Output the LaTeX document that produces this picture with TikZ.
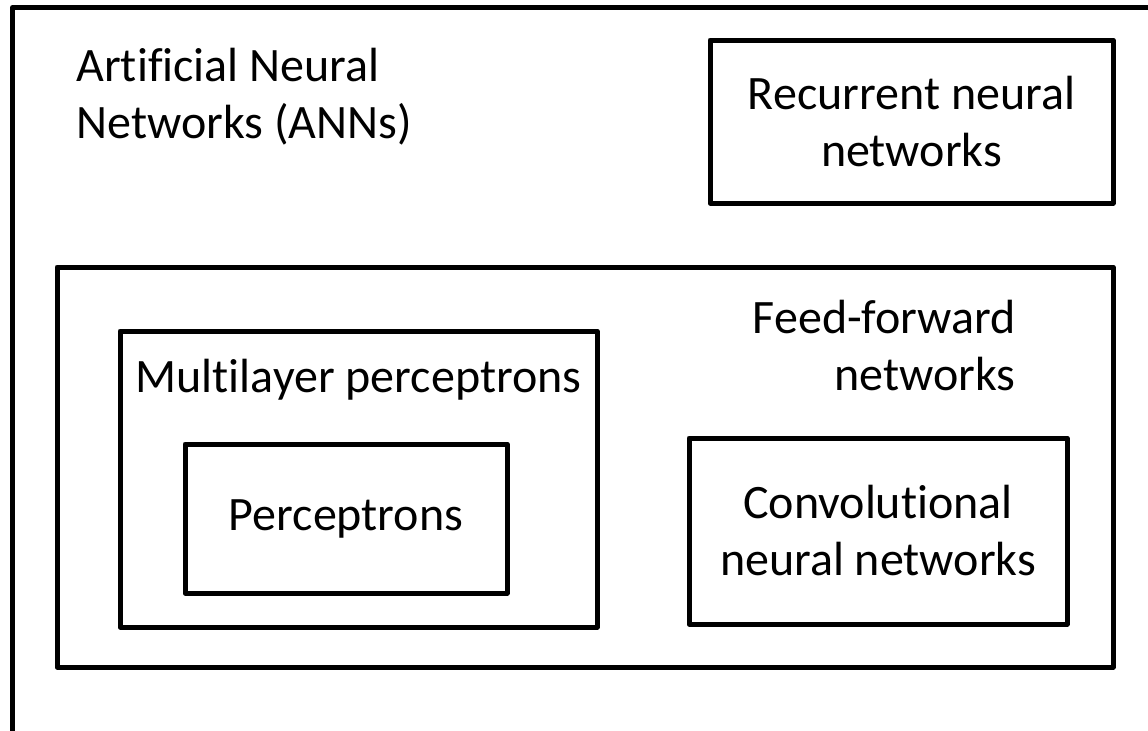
\documentclass[tikz,border=0pt]{standalone}
\usepackage{fontspec}
\setmainfont{Carlito}[Ligatures=CommonOff]
\usepackage{tikz}
\usetikzlibrary{positioning}

\begin{document}
\begin{tikzpicture}[x=0.5pt, y=-0.5pt, font=\fontsize{24}{28.5}\selectfont,
        box/.style={draw, line width=2.5pt, line join=round, inner sep=0pt, align=center},
        caption/.style={inner sep=0pt}]
        \useasboundingbox (0,0) rectangle (1148,730);
        \clip (0,0) rectangle (1148,730);
        \node[box, minimum width=600pt, minimum height=363pt, anchor=north west] (ann) at (10,5) {};
        \node[caption, align=left, anchor=west]  (ann_t) at (76,97)  {Artificial Neural\\Networks (ANNs)};
        \node[box, minimum width=201.5pt, minimum height=81.5pt] (rnn)  at (911.5,121.5) {Recurrent neural\\networks};
        \node[box, minimum width=528pt, minimum height=200pt]    (ffn)  at (585,467) {};
        \node[caption, align=right, anchor=east] (ffn_t) at (1016,346) {Feed-forward\\networks};
        \node[box, minimum width=238.5pt, minimum height=148pt]  (mlp)  at (358.5,479) {};
        \node[caption, below=15pt of mlp.north]  (mlp_t) {Multilayer perceptrons};
        \node[box, minimum width=161pt, minimum height=74.5pt]   (perc) at (346,518.5) {Perceptrons};
        \node[box, minimum width=189pt, minimum height=93pt]     (cnn)  at (878,531) {Convolutional\\neural networks};
      \end{tikzpicture}
\end{document}
